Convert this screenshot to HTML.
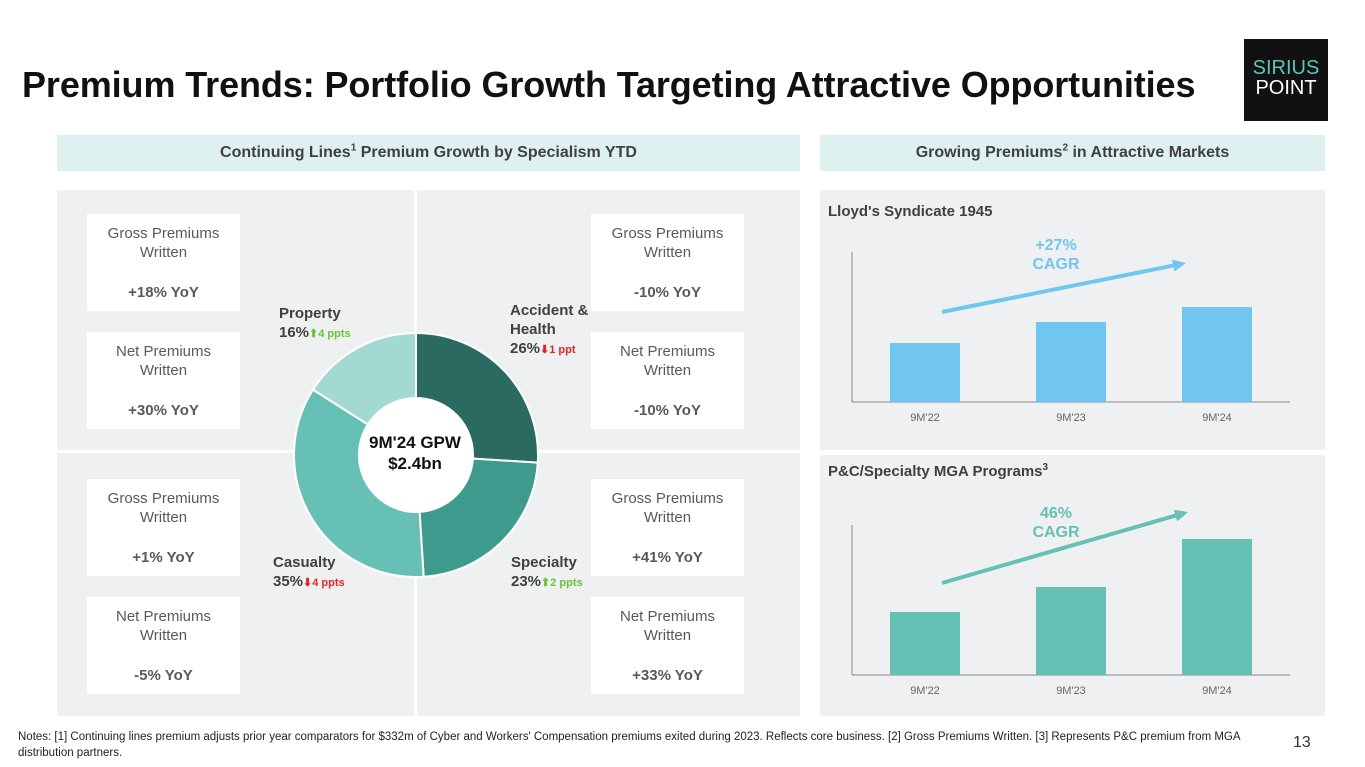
<!DOCTYPE html>
<html><head><meta charset="utf-8"><style>
body{margin:0;width:1365px;height:767px;background:#fff;font-family:"Liberation Sans",sans-serif;position:relative;overflow:hidden}
.abs{position:absolute}
.box{position:absolute;background:#fff;text-align:center;color:#595959;font-size:15px;line-height:19px;width:153px;height:97px}
.box b{display:block;margin-top:21px;font-size:15px;color:#595959}
.box .t{margin-top:10px}
.hdr{position:absolute;top:135px;height:36px;background:#dff0f0;color:#404040;font-weight:bold;font-size:16px;text-align:center;line-height:36px}
.lbl{position:absolute;font-weight:bold;color:#404040;font-size:15px;line-height:19px}
.up{color:#6ac236;font-size:11px}.dn{color:#e0262a;font-size:11px}
</style></head><body>
<div class="abs" style="left:22px;top:64px;font-size:36px;font-weight:bold;color:#111;letter-spacing:-0.1px">Premium Trends: Portfolio Growth Targeting Attractive Opportunities</div>
<div class="abs" style="left:1244px;top:39px;width:84px;height:82px;background:#111;color:#fff;text-align:center;font-size:20px;line-height:20px;padding-top:19px;box-sizing:border-box"><span style="color:#5fc4b8">SIRIUS</span><br>POINT</div>
<div class="hdr" style="left:57px;width:743px">Continuing Lines<sup style="font-size:10px;line-height:0">1</sup> Premium Growth by Specialism YTD</div>
<div class="hdr" style="left:820px;width:505px">Growing Premiums<sup style="font-size:10px;line-height:0">2</sup> in Attractive Markets</div>
<div class="abs" style="left:57px;top:190px;width:743px;height:526px;background:#eff0f2"></div>
<div class="abs" style="left:414px;top:190px;width:3px;height:526px;background:#fff"></div>
<div class="abs" style="left:57px;top:450px;width:743px;height:3px;background:#fff"></div>
<div class="abs" style="left:820px;top:190px;width:505px;height:260px;background:#eff0f2"></div>
<div class="abs" style="left:820px;top:455px;width:505px;height:261px;background:#eff0f2"></div>

<div class="box" style="left:87px;top:214px"><div class="t">Gross Premiums<br>Written</div><b>+18% YoY</b></div>
<div class="box" style="left:87px;top:332px"><div class="t">Net Premiums<br>Written</div><b>+30% YoY</b></div>
<div class="box" style="left:591px;top:214px"><div class="t">Gross Premiums<br>Written</div><b>-10% YoY</b></div>
<div class="box" style="left:591px;top:332px"><div class="t">Net Premiums<br>Written</div><b>-10% YoY</b></div>
<div class="box" style="left:87px;top:479px"><div class="t">Gross Premiums<br>Written</div><b>+1% YoY</b></div>
<div class="box" style="left:87px;top:597px"><div class="t">Net Premiums<br>Written</div><b>-5% YoY</b></div>
<div class="box" style="left:591px;top:479px"><div class="t">Gross Premiums<br>Written</div><b>+41% YoY</b></div>
<div class="box" style="left:591px;top:597px"><div class="t">Net Premiums<br>Written</div><b>+33% YoY</b></div>

<svg class="abs" id="donut" style="left:0;top:0" width="1365" height="767"></svg>
<div class="abs" style="left:355px;top:432px;width:120px;text-align:center;font-weight:bold;font-size:17px;line-height:21px;color:#111">9M'24 GPW<br>$2.4bn</div>
<div class="lbl" style="left:279px;top:304px">Property<br>16%<span class="up">⬆4 ppts</span></div>
<div class="lbl" style="left:510px;top:301px">Accident &amp;<br>Health<br>26%<span class="dn">⬇1 ppt</span></div>
<div class="lbl" style="left:273px;top:553px">Casualty<br>35%<span class="dn">⬇4 ppts</span></div>
<div class="lbl" style="left:511px;top:553px">Specialty<br>23%<span class="up">⬆2 ppts</span></div>

<div class="lbl" style="left:828px;top:202px;font-size:15px">Lloyd's Syndicate 1945</div>
<div class="lbl" style="left:828px;top:462px;font-size:15px">P&amp;C/Specialty MGA Programs<sup style="font-size:10px;line-height:0">3</sup></div>
<div class="lbl" style="left:1020px;top:236px;width:72px;text-align:center;color:#70c6ef;font-size:16px">+27%<br>CAGR</div>
<div class="lbl" style="left:1020px;top:504px;width:72px;text-align:center;color:#66c0b5;font-size:16px">46%<br>CAGR</div>
<svg class="abs" id="bars" style="left:0;top:0" width="1365" height="767"></svg>

<div class="abs" style="left:18px;top:729px;width:1250px;font-size:11.5px;line-height:16px;color:#222">Notes: [1] Continuing lines premium adjusts prior year comparators for $332m of Cyber and Workers' Compensation premiums exited during 2023. Reflects core business. [2] Gross Premiums Written. [3] Represents P&amp;C premium from MGA distribution partners.</div>
<div class="abs" style="left:1293px;top:734px;font-size:16px;color:#333">13</div>
<script>
const segNames=["Accident & Health","Specialty","Casualty","Property"];
const segShares=[26,23,35,16];
const segColors=["#2a6a61","#3f9a8e","#66c0b5","#a3d9d3"];
const barCats=["9M'22","9M'23","9M'24"];
const lloydsVals=[59,80,95];
const mgaVals=[63,88,136];
const NS="http://www.w3.org/2000/svg";
function mk(p,t,a){const e=document.createElementNS(NS,t);for(const k in a)e.setAttribute(k,a[k]);p.appendChild(e);return e;}
const d=document.getElementById('donut');
const cx=416,cy=455,R=122,r=57;
const tot=segShares.reduce((a,b)=>a+b,0);
let ang=0;
segShares.forEach((v,i)=>{
  const a0=ang/tot*2*Math.PI,a1=(ang+v)/tot*2*Math.PI;ang+=v;
  const p=(rr,a)=>[cx+rr*Math.sin(a),cy-rr*Math.cos(a)];
  const [x0,y0]=p(R,a0),[x1,y1]=p(R,a1),[x2,y2]=p(r,a1),[x3,y3]=p(r,a0);
  const lg=(a1-a0)>Math.PI?1:0;
  const s=mk(d,'path',{d:`M${x0},${y0}A${R},${R} 0 ${lg} 1 ${x1},${y1}L${x2},${y2}A${r},${r} 0 ${lg} 0 ${x3},${y3}Z`,fill:segColors[i],stroke:'#fff','stroke-width':2});
  
  
});
mk(d,'circle',{cx:cx,cy:cy,r:r,fill:'#fff'});
const b=document.getElementById('bars');
function chart(vals,base,color,arrow,name){
  const x0=852,x1=1290,top=base-150;
  mk(b,'line',{x1:x0,y1:top,x2:x0,y2:base,stroke:'#888','stroke-width':1});
  mk(b,'line',{x1:x0,y1:base,x2:x1,y2:base,stroke:'#888','stroke-width':1});
  const step=146,bw=70;
  vals.forEach((v,i)=>{
    const cxp=925+i*step;
    const rc=mk(b,'rect',{x:cxp-bw/2,y:base-v,width:bw,height:v,fill:color});
    
    
    const t=mk(b,'text',{x:cxp,y:base+19,'text-anchor':'middle','font-size':11,fill:'#666','font-family':'Liberation Sans'});
    t.textContent=barCats[i];
  });
  const [ax0,ay0,ax1,ay1]=arrow;
  mk(b,'line',{x1:ax0,y1:ay0,x2:ax1-6,y2:ay1+(ay0-ay1)*6/(ax1-ax0),stroke:color,'stroke-width':4});
  const ang=Math.atan2(ay1-ay0,ax1-ax0);
  const hp=(l,o)=>[ax1-l*Math.cos(ang)+o*Math.sin(ang),ay1-l*Math.sin(ang)-o*Math.cos(ang)];
  const [p1x,p1y]=hp(13,6),[p2x,p2y]=hp(13,-6);
  mk(b,'polygon',{points:`${ax1},${ay1} ${p1x},${p1y} ${p2x},${p2y}`,fill:color});
}
chart(lloydsVals,402,'#70c6ef',[942,312,1186,263],'lloyds');
chart(mgaVals,675,'#66c0b5',[942,583,1188,512],'mga');
</script>
</body></html>
